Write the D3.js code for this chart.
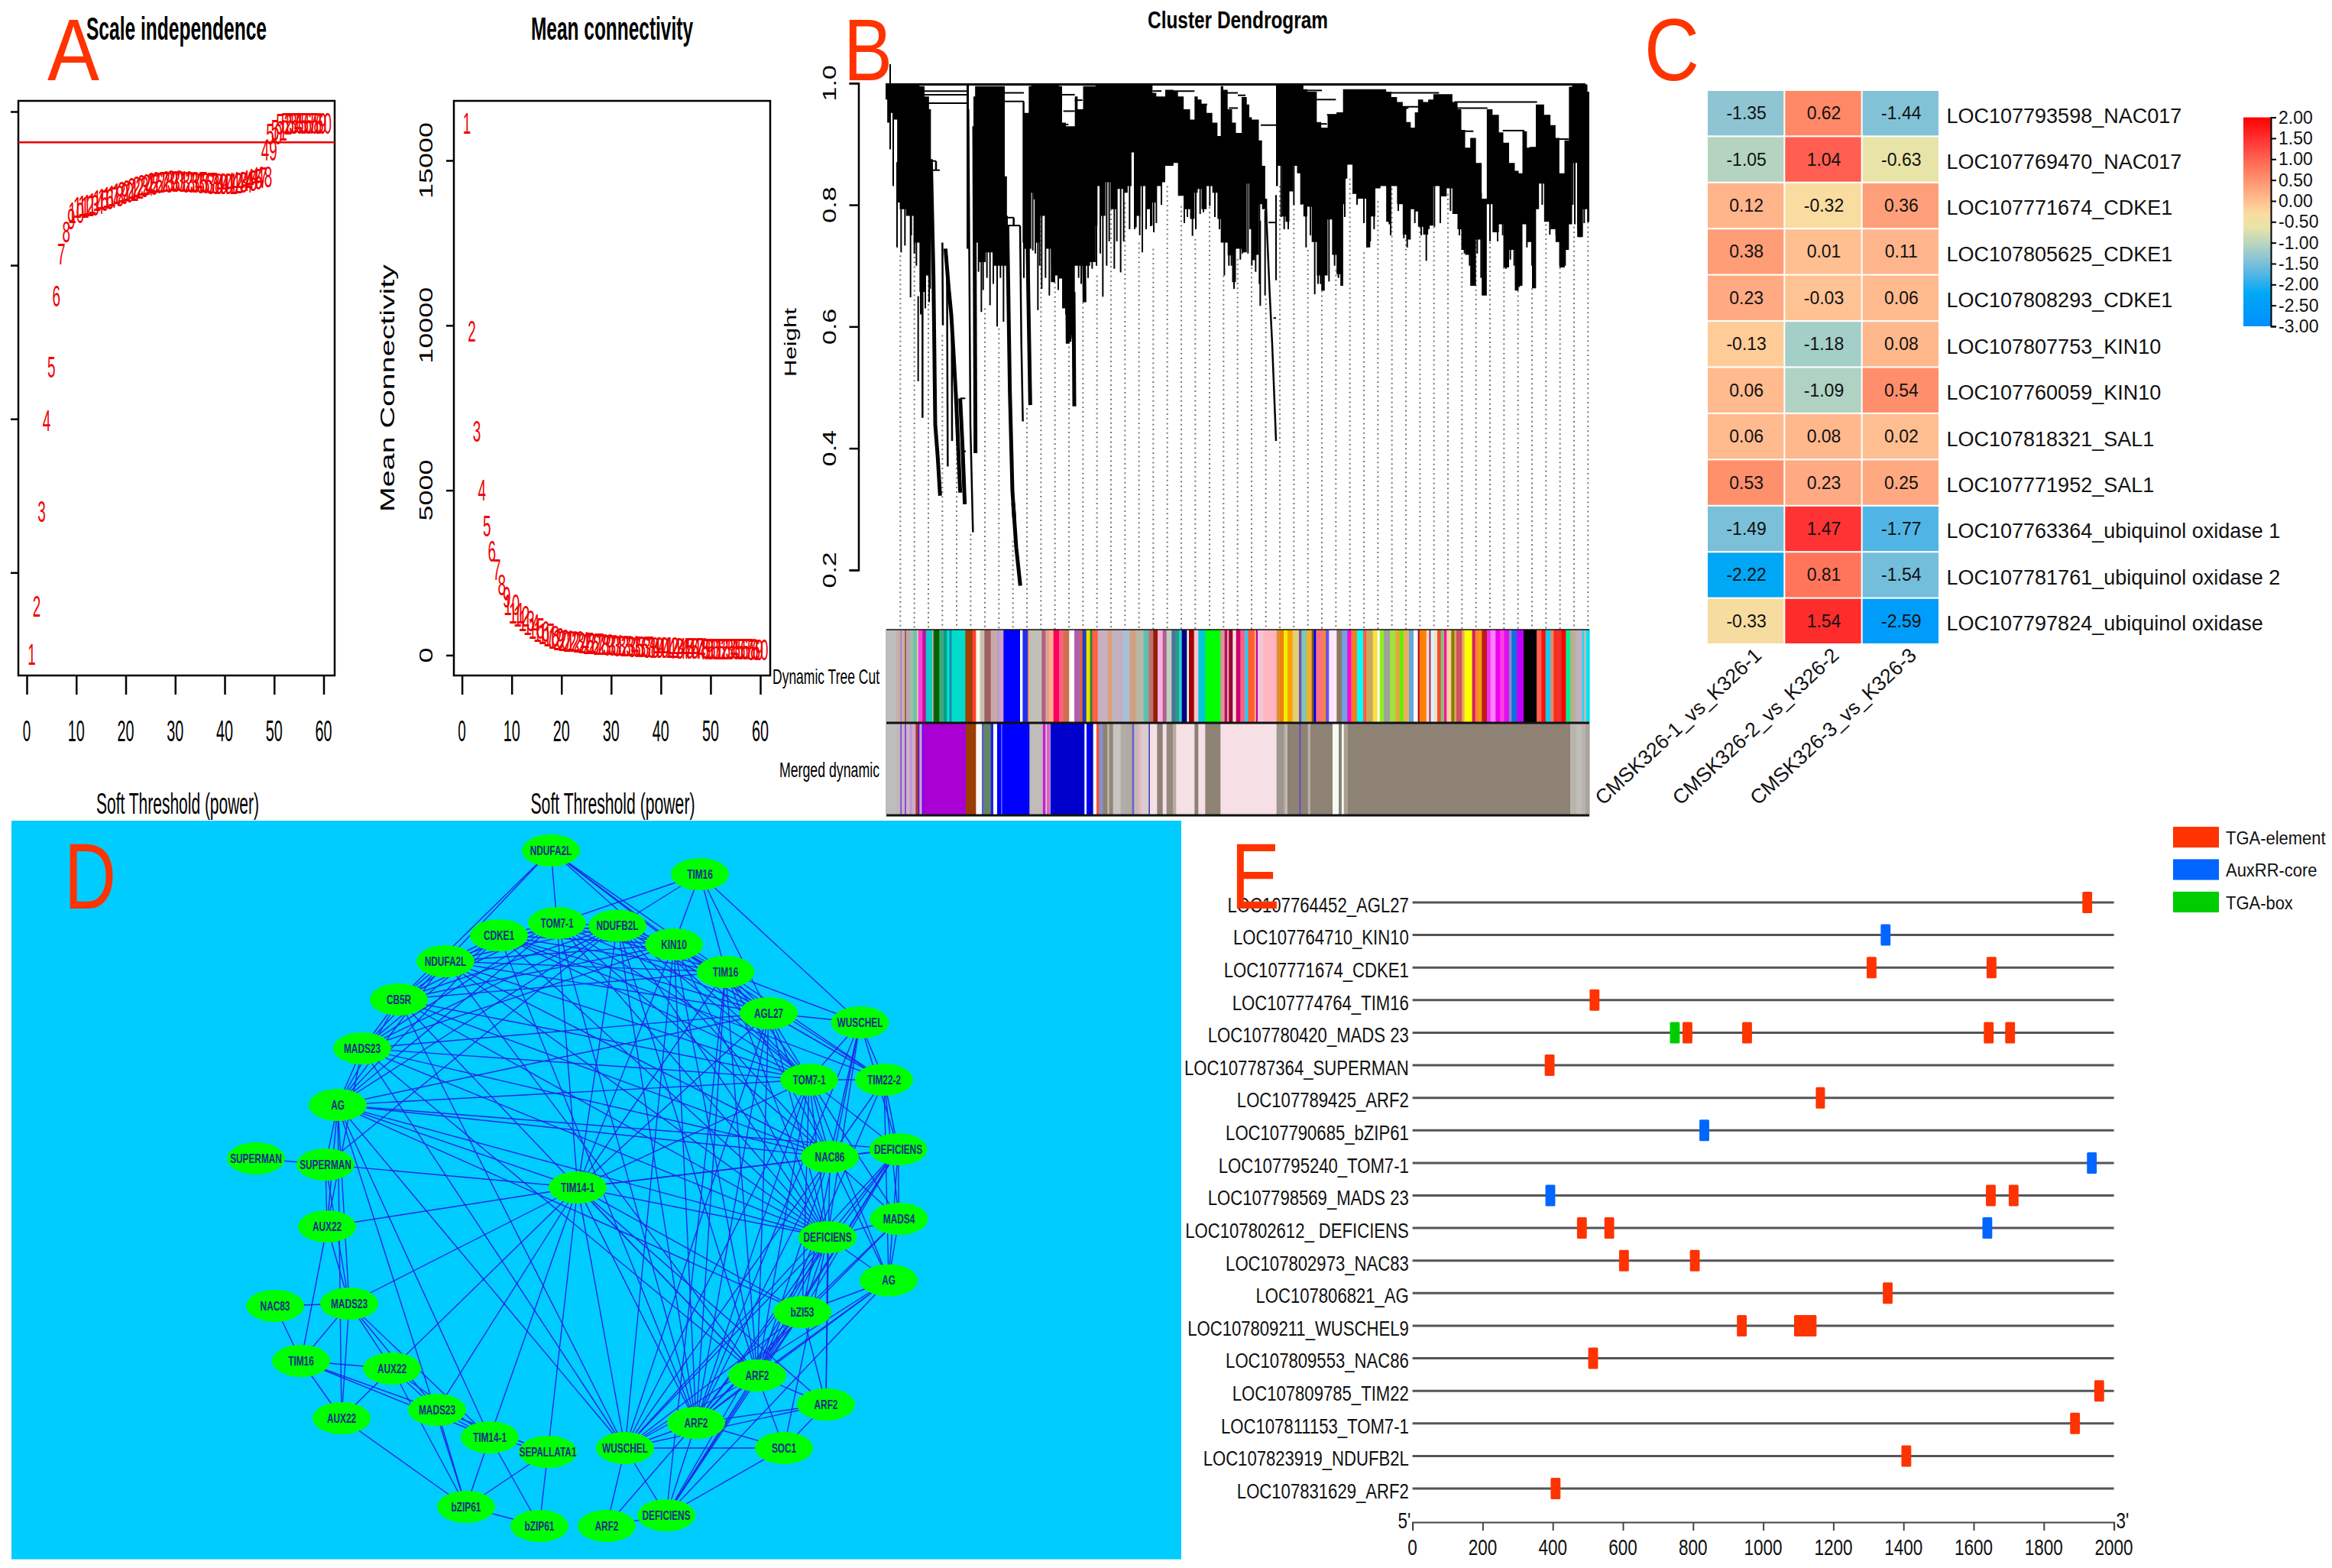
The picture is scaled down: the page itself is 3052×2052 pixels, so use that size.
<!DOCTYPE html>
<html><head><meta charset="utf-8">
<script src="https://cdn.jsdelivr.net/npm/d3@7"></script>
<style>html,body{margin:0;background:#fff}svg{display:block}text{font-family:"Liberation Sans",Arial,sans-serif}</style>
</head><body><div id="c"></div>
<script>
// ---------- Panel A ----------
const powers = d3.range(1,61);
const scaleFit = [-.768,-.61,-.303,-.006,.168,.40,.536,.608,.651,.67,.687,.692,.695,.699,.709,.716,.719,.726,.733,.738,.743,.75,.755,.76,.763,.767,.769,.77,.772,.774,.772,.772,.77,.77,.769,.767,.767,.765,.765,.765,.765,.767,.769,.77,.774,.779,.784,.788,.875,.926,.938,.958,.961,.962,.962,.962,.961,.962,.962,.961];
const meanK = [16116,9813,6782,4994,3909,3143,2585,2122,1755,1516,1276,1165,1037,910,800,718,638,575,510,463,440,420,400,380,365,350,335,320,310,300,290,280,270,262,255,248,240,235,230,225,220,215,210,205,200,197,194,191,188,185,182,180,178,176,174,172,170,168,166,165];
const powerTicks = [0,10,20,30,40,50,60];
const fitTicks = [1,.5,0,-.5];
const kTicks = [0,5000,10000,15000];
// ---------- Panel B ----------
const heightTicks = [.2,.4,.6,.8,1];
const massU = [27,40,50,70,75,90,125,150,170,190,205,207,345,354,355,372,385,400,440,465,490,500,507,508,565,580,598,600,615,620,645,667,685,700,715,725,745,768,772,790,815,845,858,860,880,900,920,950,970,985,1000,1015,1040,1060,1070,1080,1100,1120,1130,1150,1165,1185,1210,1235,1245,1260,1275,1300,1320,1340,1346,1360,1380,1395,1410,1440,1450,1460,1470,1485,1500,1510,1525,1526,1560,1575,1590,1605,1620,1635,1650,1660,1675,1690,1710,1730,1745,1755,1770,1790,1805,1820,1826,1830,1850,1870,1880,1910,1920,1940,1960,1980,2005,2020,2050,2065,2078,2100,2110,2125,2150,2165,2190,2220,2240,2265,2280,2295,2310,2335,2355,2380,2395,2425,2445,2460,2490,2505,2520,2535,2555,2575,2585,2600,2625,2650,2665,2680,2705,2715,2730,2755,2775,2790];
const massTop = [.997,.997,.997,.997,.997,.997,.997,.997,.995,.978,.957,null,.997,.997,null,.978,.995,.995,.995,.995,.995,.847,.782,null,.970,.951,.995,.997,.997,.997,.997,.997,.997,.997,.995,.935,.929,.929,.978,.957,.995,.995,.997,.997,.997,.997,.997,.997,.997,.997,.997,.997,.997,.997,.997,.984,.978,.978,.989,.989,.986,.978,.957,.940,.978,.973,.965,.951,.935,.913,.995,.989,.957,.935,.918,.977,.965,.944,.940,.940,.906,.864,.810,null,.996,.996,.996,.996,.996,.996,.996,.996,.990,.986,.986,.936,.927,.927,.948,.948,.952,.952,.990,.990,.990,.990,.990,.990,.990,.990,.990,.990,.986,.977,.969,.961,.936,.927,.952,.973,.969,.973,.982,.982,.982,.969,.957,.923,.894,.910,.869,.810,.957,.948,.919,.902,.869,.856,.852,.921,.894,.894,.965,.965,.948,.931,.910,.852,.906,.994,.998,.998,.998,.986];
const massBot = [.973,.935,.951,.940,.804,.793,.782,.738,.657,.684,.662,null,.728,.728,null,.684,.738,.706,.722,.700,.700,.700,.700,null,.738,.728,.728,.820,.809,.738,.782,.728,.673,.684,.679,.630,.575,.586,.700,.700,.700,.706,.766,.831,.782,.837,.793,.826,.820,.831,.886,.782,.831,.793,.766,.804,.831,.837,.864,.864,.869,.815,.793,.777,.820,.826,.793,.831,.820,.777,.738,.738,.717,.673,.728,.722,.835,.760,.709,.718,.801,.793,.772,null,.831,.864,.781,.772,.822,.864,.852,.801,.781,.797,.739,.684,.659,.684,.776,.718,.686,.667,.801,.843,.866,.818,.810,.810,.730,.781,.827,.831,.772,.831,.801,.751,.743,.793,.789,.764,.751,.766,.831,.814,.827,.785,.760,.726,.718,.667,.743,.651,.801,.755,.768,.697,.726,.659,.667,.768,.739,.663,.793,.835,.772,.760,.739,.697,.726,.768,.869,.747,.793,.772];
const tailsThick = [
 [[205,.875],[215,.684],[222,.439],[232,.384],[241,.322]],
 [[262,.728],[275,.662],[285,.619],[295,.548],[303,.488],[320,.327]],
 [[320,.482],[330,.395],[338,.308]],
 [[505,.766],[515,.493],[525,.330],[532,.285]],
 [[375,.929],[380,.392]],
 [[580,.847],[588,.640],[595,.471]],
 [[740,.684],[742,.572]],
 [[765,.657],[768,.469]],
 [[805,.793],[808,.640]],
 [[528,.31],[540,.237],[556,.174]]
];
const tailsMid = [
 [[352,.957],[360,.439],[370,.262]],
 [[555,.766],[560,.575],[566,.444]],
 [[172,.738],[172,.450]],
 [[250,.738],[252,.602]],
 [[268,.714],[271,.370]],
 [[287,.613],[288,.412]],
 [[1520,.801],[1535,.655],[1545,.571],[1560,.412]],
 [[225,.872],[225,.857]],
 [[530,.779],[530,.766]]
];
const spikeU = [45,57,72,88,103,125,155,403,437,465,490,605,625,640,670,690,590,880,895,925,950,1035,1010,1080,1232,1395,1357,1300,1275,1498,1517,1560,1678,1712,1748,1768,1820,1917,2005,2150,2182,2463,2578,2690,2705,2755,2733,2785,2635,
 128,140,148,165,183,198,392,410,425,450,478,570,615,632,655,680,705,712,735,755,785,795,822,838,855,870,905,935,962,985,1005,1025,1050,1068,1090,1110,1200,1212,1245,1262,1320,1338,1375,1385,1420,1428,
 1450,1465,1480,1495,1580,1592,1608,1630,1660,1695,1725,1735,1790,1805,1830,1878,1905,1930,1945,2010,2040,2062,2075,2105,2130,2160,2205,2245,2280,2300,2320,2350,2365,2400,2430,2450,2480,2495,2515,2545,2565,2605,2640,2660,2675,2695,2725,2745,2770];
const spikeBot = [.891,.831,.730,.722,.733,.648,.510,.624,.635,.600,.608,.725,.627,.662,.651,.673,.684,.649,.700,.695,.689,.722,.763,.755,.749,.662,.684,.798,.788,.634,.651,.676,.730,.653,.659,.674,.667,.730,.768,.708,.764,.695,.663,.697,.726,.747,.768,.772,.751,
 .75,.72,.70,.62,.63,.64,.69,.66,.68,.67,.68,.68,.72,.70,.68,.70,.66,.68,.62,.58,.68,.67,.68,.695,.70,.72,.74,.74,.74,.76,.76,.75,.76,.765,.77,.80,.77,.78,.76,.785,.78,.76,.70,.70,.71,.72,
 .72,.70,.69,.67,.78,.76,.76,.80,.80,.75,.67,.67,.70,.68,.78,.80,.77,.74,.76,.75,.79,.745,.73,.77,.75,.76,.77,.79,.75,.72,.70,.72,.68,.74,.74,.75,.71,.70,.665,.73,.70,.80,.77,.75,.70,.70,.80,.76,.77];
const branchStart = [130,135,190,208,210,470,490,505,505,680,720,725,725,770,1075,1130,1250,1345,1375,320,330,1410,1500,1530,1550,1660,1710,1730,1730,1760,1950,2010,2020,2050,2120,2125,2260,2270,2295,2450,2555,2665];
const branchEnd = [345,345,345,225,240,570,570,530,555,700,770,770,745,800,1110,1240,1290,1410,1410,340,342,1440,1560,1560,1560,1740,1795,1760,1755,1805,2200,2120,2080,2075,2190,2155,2585,2390,2335,2535,2585,2710];
const branchH = [.987,.981,.967,.872,.857,.984,.970,.779,.766,.989,.981,.954,.932,.972,.987,.987,.965,.984,.959,.482,.395,.980,.931,.771,.614,.988,.973,.933,.921,.948,.984,.961,.959,.925,.967,.950,.969,.959,.921,.922,.894,.908];
const guideU = [85,140,195,250,306,361,417,472,527,582,637,692,747,802,857,912,967,1022,1078,1133,1188,1243,1299,1354,1409,1464,1520,1575,1630,1685,1740,1795,1850,1905,1960,2015,2070,2125,2180,2235,2290,2345,2400,2455,2510,2565,2620,2675,2730,2785];
const guideH = [.717,.777,.777,.586,.477,.259,.630,.597,.248,.466,.820,.673,.575,.640,.684,.793,.804,.738,.728,.831,.798,.744,.804,.684,.711,.705,.646,.831,.801,.726,.659,.693,.843,.722,.806,.827,.743,.764,.764,.818,.760,.739,.801,.697,.659,.663,.776,.697,.764,.772];
const cutEnd = [68,85,90,102,108,125,135,150,155,172,185,210,215,238,255,268,278,286,340,368,382,398,415,440,465,475,490,555,565,585,590,640,655,670,686,708,725,748,768,790,800,815,830,838,860,900,915,960,985,1010,1040,1060,1078,1095,1115,1130,1150,1165,1180,1190,1210,1218,1238,1255,1282,1342,1358,1368,1375,1390,1403,1415,1420,1438,1450,1475,1482,1488,1510,1562,1575,1590,1605,1625,1650,1660,1680,1700,1708,1717,1745,1755,1768,1798,1818,1840,1855,1878,1902,1915,1940,1958,1967,1983,2007,2030,2045,2060,2082,2100,2117,2123,2150,2162,2167,2180,2193,2207,2220,2230,2248,2260,2268,2290,2300,2330,2342,2355,2368,2388,2402,2422,2440,2455,2475,2485,2505,2532,2583,2602,2618,2638,2650,2668,2680,2698,2715,2735,2762,2770,2778,2790];
const cutColor = ["#bdbdbd","#c8b0a8","#a080c8","#c0b0b0","#b06040","#b8a8b0","#a0c0a0","#70c0b0","#d0e090","#ff40e0","#c01090","#10c8c8","#d0b0b0","#006400","#40a880","#00a080","#00e0e0","#2080a0","#00dccc","#a04000","#ff4030","#f8f8e8","#c8c0b0","#a06060","#c8a8a8","#b0a0d0","#d8a0c0","#0000ff","#ffffff","#2030f0","#f08050","#c0c0b8","#b06080","#e0a090","#ffb090","#ff0060","#ff6080","#d07050","#ffffff","#b060b0","#e06040","#2040c0","#e8e000","#208040","#ff6040","#c8b0c0","#e0a070","#c0b0c0","#a8c0d8","#d0a080","#b8b8a8","#60c0b0","#c07070","#902000","#ffb0e0","#b06090","#c0d0c0","#5070a0","#20a080","#30d0e0","#000080","#f0f0f0","#a00000","#f8c0d0","#00c8d8","#00ff00","#e090a0","#b01060","#e8a0a0","#900030","#ffdddd","#d00060","#c00090","#ff6080","#20d0ff","#ff6030","#ffa080","#c000a0","#f0c8d8","#ffb6c1","#e09030","#f08010","#f0f000","#ffa000","#e0d070","#7050c0","#80c8b0","#f0b030","#806000","#0000ff","#ff7080","#f09020","#7050f0","#ffe8ff","#907860","#70a0e0","#ff00e0","#f08020","#00ffff","#ff6040","#c8a860","#f8e040","#f8fff0","#90ee20","#a0a0a0","#a0e040","#f0a040","#60f000","#e8b060","#60a8e0","#fff8f8","#a00030","#ff8000","#f0d8d0","#b00040","#d0f8ff","#f8e0c0","#f05030","#80c080","#ff10a0","#f8d0a0","#808000","#e0a060","#d05060","#e0b060","#ffff00","#d02060","#ff8040","#f0a000","#c01820","#f030f0","#ff80ff","#f000f0","#ff40e0","#e010f0","#8090c0","#1070e0","#c000ff","#000000","#ff6050","#ff1000","#10c8f0","#f08060","#f03020","#f03030","#ff0000","#00f090","#b8b090","#c0b0c0","#20d8f0","#c8b8b0","#00e0f0"];
const mergedEnd = [68,85,90,102,108,122,130,145,155,160,170,175,342,382,405,412,440,450,465,480,485,592,640,645,655,660,672,675,808,816,828,842,855,865,880,898,905,920,950,975,995,1003,1020,1030,1060,1065,1093,1115,1130,1155,1168,1240,1255,1282,1342,1562,1590,1595,1605,1652,1657,1685,1695,1782,1806,1818,1826,1842,2715,2740,2760,2775,2790];
const mergedColor = ["#bdbdbd","#c0b8b8","#8040e0","#c0b8c0","#a040e0","#c8b8c0","#c090e0","#d0a8d0","#a04020","#6000f0","#d0a0d0","#6000f0","#a900d4","#9a3c00","#f8f8f0","#6050e0","#608860","#2020f0","#ffffff","#0000ff","#6060ff","#0000ff","#c0bcb8","#d0a0d0","#c020d0","#d0d0d0","#e060c0","#a0a0e0","#0000cc","#ffffff","#0000ff","#0000cc","#ffffff","#ff5030","#8090d8","#908070","#c0bab0","#908878","#c8c4c0","#b0aca8","#b0aaa0","#7060d0","#c0bcb8","#f0b0c0","#d8cccc","#5040c0","#f5e0e6","#8e8275","#f5e0e6","#968a80","#b8aca0","#f5e0e6","#8e8275","#f5e0e6","#8e8275","#f6e0e6","#a09690","#b0a8a0","#c0b8b0","#8e8275","#6040d0","#8e8275","#b8b0a8","#8e8275","#f4fbf2","#8e8275","#f8fff8","#a8a090","#8e8275","#b8b4ae","#c0bcb8","#b8b4ae","#a8a49e"];
// ---------- Panel C ----------
const geneRows = ["LOC107793598_NAC017","LOC107769470_NAC017","LOC107771674_CDKE1","LOC107805625_CDKE1","LOC107808293_CDKE1","LOC107807753_KIN10","LOC107760059_KIN10","LOC107818321_SAL1","LOC107771952_SAL1","LOC107763364_ubiquinol oxidase 1","LOC107781761_ubiquinol oxidase 2","LOC107797824_ubiquinol oxidase"];
const compareCols = ["CMSK326-1_vs_K326-1","CMSK326-2_vs_K326-2","CMSK326-3_vs_K326-3"];
const logFC1 = [-1.35,-1.05,.12,.38,.23,-.13,.06,.06,.53,-1.49,-2.22,-.33];
const logFC2 = [.62,1.04,-.32,.01,-.03,-1.18,-1.09,.08,.23,1.47,.81,1.54];
const logFC3 = [-1.44,-.63,.36,.11,.06,.08,.54,.02,.25,-1.77,-1.54,-2.59];
const colorStops = [-3,-2.2,-1.77,-1.35,-1.05,-.63,-.32,-.13,.12,.62,1.04,1.47,2];
const colorValues = ["#0090ff","#00a8f5","#50b5e5","#8fc5d3","#b4d4c0","#e8e4a8","#f8dca0","#ffcc98","#ffb48a","#ff8866","#ff5e50","#ff3333","#ff0000"];
const legendTicks = [2,1.5,1,.5,0,-.5,-1,-1.5,-2,-2.5,-3];
// ---------- Panel D ----------
const nodeNames = ["NDUFA2L","TOM7-1","CDKE1","NDUFA2L","CB5R","MADS23","AG","SUPERMAN","SUPERMAN","AUX22","NAC83","MADS23","TIM16","AUX22","AUX22","MADS23","TIM14-1","SEPALLATA1","bZIP61","bZIP61","TIM14-1","NDUFB2L","TIM16","KIN10","TIM16","AGL27","WUSCHEL","TOM7-1","TIM22-2","NAC86","DEFICIENS","MADS4","DEFICIENS","AG","bZI53","ARF2","ARF2","ARF2","SOC1","WUSCHEL","DEFICIENS","ARF2"];
const nodeX = [721,729,653,583,522,474,442,335,426,428,360,457,394,513,447,572,641,717,610,706,756,808,916,882,949.5,1006,1125.5,1059,1157,1086,1175.5,1176.5,1083,1163,1050,991,1081,911,1026,818,872,794];
const nodeY = [1113,1208,1224,1258,1308,1372,1446,1516,1524,1605,1709,1706,1781,1791,1856,1845,1881,1900,1972,1997,1554,1211.5,1144,1236,1272,1326,1338,1413,1413,1514,1504,1595,1619,1675.5,1717,1800,1838,1862,1895,1895,1983,1997];
const adjacency = [
 [0,[4,1,23,24,25,27,3]],
 [1,[2,3,4,5,6,20,21,23,24,25,27,29,32,37]],
 [2,[3,4,5,6,21,23,24,25,27,28,32,37]],
 [3,[4,5,6,21,23,24,25,27,29,32,35]],
 [4,[5,6,21,23,24,27,29,32,35,39]],
 [5,[6,21,23,25,27,29,32,35,39,9]],
 [6,[8,9,11,14,21,25,27,29,30,32,34,39,20,18,16]],
 [8,[7,9,11,20,21]],
 [9,[11,12,20]],
 [10,[11,12]],
 [11,[12,13,15,16,20,14]],
 [12,[13,14,15,16]],
 [13,[14,15,16,18,20]],
 [14,[18]],
 [15,[16,17,18,20]],
 [16,[17,18,19,20]],
 [17,[18,19,20]],
 [18,[19]],
 [20,[21,23,24,25,27,29,30,32,34,35,36,37,39]],
 [21,[22,23,24,25,27,28,29,32,35,37]],
 [22,[1,23,24,25,26]],
 [23,[24,25,27,28,32,35,37,39]],
 [24,[25,26,27,28,29,32,35,37,40]],
 [25,[26,27,28,29,32,35,37,39]],
 [26,[27,28,29,30,32,34,37]],
 [27,[28,29,30,31,32,33,34,35,37,39]],
 [28,[29,30,31,33,35]],
 [29,[30,31,33,35,36,37,39]],
 [30,[31,32,33,34,35,37,39,40]],
 [31,[32,33,34,37]],
 [32,[33,34,35,36,37,38,39,40]],
 [33,[34,35,37,39,40]],
 [34,[35,36,37,39,40]],
 [35,[36,37,38,39,40]],
 [36,[37,38,39]],
 [37,[38,39,40,41]],
 [38,[39,40]],
 [39,[40,41]],
 [40,[41]]
];
// ---------- Panel E ----------
const promoterGenes = ["LOC107764452_AGL27","LOC107764710_KIN10","LOC107771674_CDKE1","LOC107774764_TIM16","LOC107780420_MADS 23","LOC107787364_SUPERMAN","LOC107789425_ARF2","LOC107790685_bZIP61","LOC107795240_TOM7-1","LOC107798569_MADS 23","LOC107802612_ DEFICIENS","LOC107802973_NAC83","LOC107806821_AG","LOC107809211_WUSCHEL9","LOC107809553_NAC86","LOC107809785_TIM22","LOC107811153_TOM7-1","LOC107823919_NDUFB2L","LOC107831629_ARF2"];
const elementNames = ["TGA-element","AuxRR-core","TGA-box"];
const siteGene = [0,1,2,2,3,4,4,4,4,4,5,6,7,8,9,9,9,10,10,10,11,11,12,13,13,14,15,16,17,18];
const siteStart = [1910,1335,1295,1637,505,734,770,940,1629,1690,377,1150,818,1923,379,1635,1700,469,547,1625,589,791,1341,925,1088,501,1944,1875,1394,394];
const siteEnd = [1938,1363,1323,1665,533,762,798,968,1657,1718,405,1176,846,1951,407,1663,1728,497,575,1653,617,819,1369,953,1152,529,1972,1903,1422,422];
const siteType = [0,1,0,0,0,2,0,0,0,0,0,0,1,1,1,0,0,0,0,1,0,0,0,0,0,0,0,0,0,0];
const positionTicks = d3.range(0,2001,200);
const elementColors = ["#ff3300","#0066ff","#00cc00"];

// ---------- drawing ----------
const svg = d3.select("#c").append("svg").attr("width",3052).attr("height",2052).attr("viewBox","0 0 3052 2052");
function label(g,o){
  const el = g.append("text")
   .attr("transform",`translate(${o.x},${o.y}) rotate(${o.rot||0}) scale(${o.sx||1},${o.sy||1})`)
   .attr("text-anchor",o.anchor||"middle").attr("dy",o.dy==null?".35em":o.dy)
   .attr("font-size",o.size).attr("fill",o.fill||"#000").attr("font-weight",o.weight||"normal").text(o.text);
  if(o.w) el.attr("textLength",o.w).attr("lengthAdjust","spacingAndGlyphs");
  return el;
}
function cleanAxis(g){ g.select(".domain").remove(); g.selectAll("text").remove(); g.selectAll("line").attr("stroke","#000").attr("stroke-width",2.5); }
const RED = "#ff3300";
function letter(text,x,y,w,size){ label(svg,{x,y,text,size,w,fill:RED,anchor:"start",dy:0}); }

function wgcnaPanel(frame,xRange,yScale,vals,title,titleX,titleW,xTitleX,xTitleW){
  const g = svg.append("g");
  const x = d3.scaleLinear([0,60],xRange);
  g.append("rect").attr("x",frame[0]).attr("y",132).attr("width",frame[1]-frame[0]).attr("height",752).attr("fill","none").attr("stroke","#000").attr("stroke-width",2.5);
  g.append("g").attr("transform","translate(0,884)").call(d3.axisBottom(x).tickValues(powerTicks).tickSize(25).tickFormat("")).call(cleanAxis);
  powerTicks.forEach(t=>label(g,{x:x(t),y:957,text:t,size:38,w:String(t).length*10.5+(t?1:0)}));
  label(g,{x:titleX,y:37,text:title,size:43,w:titleW,weight:"bold"});
  label(g,{x:xTitleX,y:1052,text:"Soft Threshold (power)",size:38,w:xTitleW});
  powers.forEach((p,i)=>label(g,{x:x(p),y:yScale(vals[i]),text:p,size:38,fill:"#f00000",w:String(p).length*10.5}));
  return g;
}
const yFit = d3.scaleLinear([1,-.5],[146,749.3]);
const gA = wgcnaPanel([24,438],[35,423.5],yFit,scaleFit,"Scale independence",231,236,232.5,213);
gA.append("g").attr("transform","translate(24,0)").call(d3.axisLeft(yFit).tickValues(fitTicks).tickSize(10).tickFormat("")).call(cleanAxis);
gA.append("line").attr("x1",24).attr("x2",438).attr("y1",yFit(.9)).attr("y2",yFit(.9)).attr("stroke","#f00000").attr("stroke-width",2.5);
const yK = d3.scaleLinear([0,15000],[857.4,210]);
const gK = wgcnaPanel([594,1008],[604.6,995],yK,meanK,"Mean connectivity",801,212,802,215);
gK.append("g").attr("transform","translate(594,0)").call(d3.axisLeft(yK).tickValues(kTicks).tickSize(10).tickFormat("")).call(cleanAxis);
kTicks.forEach(t=>label(gK,{x:557,y:yK(t),text:t,size:36,rot:-90,sy:.68}));
label(gK,{x:507,y:508,text:"Mean Connectivity",size:38,rot:-90,sy:.68,w:324});

// Panel B
const gB = svg.append("g");
const uX = d3.scaleLinear([27,2790],[1159,2080]);
const hY = d3.scaleLinear([1,.2],[108.8,745.9]);
const guideEnd = .093;
guideU.forEach((u,i)=>gB.append("line").attr("x1",uX(u)).attr("x2",uX(u)).attr("y1",hY(guideH[i])).attr("y2",hY(guideEnd)).attr("stroke","#777").attr("stroke-width",2).attr("stroke-dasharray","2 4.2"));
const massData = massU.map((u,i)=>({u,t:massTop[i],b:massBot[i]}));
gB.append("path").attr("d",d3.area().defined(d=>d.t!=null).curve(d3.curveStep).x(d=>uX(d.u)).y0(d=>hY(d.t)).y1(d=>hY(d.b))(massData)).attr("fill","#000");
const ln = d3.line().x(d=>uX(d[0])).y(d=>hY(d[1]));
tailsThick.forEach(t=>gB.append("path").attr("d",ln(t)).attr("fill","none").attr("stroke","#000").attr("stroke-width",5));
tailsMid.forEach(t=>gB.append("path").attr("d",ln(t)).attr("fill","none").attr("stroke","#000").attr("stroke-width",2.5));
spikeU.forEach((u,i)=>gB.append("line").attr("x1",uX(u)).attr("x2",uX(u)).attr("y1",hY(spikeBot[i]+.14)).attr("y2",hY(spikeBot[i])).attr("stroke","#000").attr("stroke-width",2));
branchStart.forEach((s,i)=>gB.append("line").attr("x1",uX(s)).attr("x2",uX(branchEnd[i])).attr("y1",hY(branchH[i])).attr("y2",hY(branchH[i])).attr("stroke","#000").attr("stroke-width",2));
gB.append("line").attr("x1",uX(27)).attr("x2",uX(2775)).attr("y1",hY(.998)).attr("y2",hY(.998)).attr("stroke","#000").attr("stroke-width",3);
gB.append("g").attr("transform","translate(1123.5,0)").call(d3.axisLeft(hY).tickValues(heightTicks).tickSize(12).tickFormat(""))
  .call(g=>g.selectAll("line,path").attr("stroke","#000").attr("stroke-width",2.5));
heightTicks.forEach(t=>label(gB,{x:1085.6,y:hY(t),text:t.toFixed(1),size:34,rot:-90,sy:.68}));
label(gB,{x:1034,y:448,text:"Height",size:32,rot:-90,sy:.7,w:90});
label(gB,{x:1620,y:26,text:"Cluster Dendrogram",size:32,w:236,weight:"bold"});
label(gB,{x:1151,y:885,text:"Dynamic Tree Cut",size:28,w:140,anchor:"end"});
label(gB,{x:1151,y:1007,text:"Merged dynamic",size:28,w:131,anchor:"end"});
function strip(ends,colors,y0,y1){
  ends.forEach((e,i)=>{const s=i?ends[i-1]:27;
    gB.append("rect").attr("x",uX(s)).attr("y",y0).attr("width",Math.max(0,uX(e)-uX(s))+.6).attr("height",y1-y0).attr("fill",colors[i]);});
}
strip(cutEnd,cutColor,824,945);
strip(mergedEnd,mergedColor,946,1066);
[[824,1.5],[946,3],[1067,3]].forEach(([y,w])=>gB.append("line").attr("x1",1160).attr("x2",2080).attr("y1",y).attr("y2",y).attr("stroke","#111").attr("stroke-width",w));

// Panel C
const gC = svg.append("g");
const hx = d3.scaleBand(compareCols,[2235,2537]).paddingInner(.02);
const hy = d3.scaleBand(geneRows,[119,842]).paddingInner(.035);
const heat = d3.scaleLinear(colorStops,colorValues);
[logFC1,logFC2,logFC3].forEach((col,c)=>col.forEach((v,r)=>{
  gC.append("rect").attr("x",hx(compareCols[c])).attr("y",hy(geneRows[r])).attr("width",hx.bandwidth()).attr("height",hy.bandwidth()).attr("fill",heat(v));
  label(gC,{x:hx(compareCols[c])+hx.bandwidth()/2+1,y:hy(geneRows[r])+hy.bandwidth()/2,text:v.toFixed(2),size:23,fill:"#111"});
}));
geneRows.forEach(g=>label(gC,{x:2547.5,y:hy(g)+hy.bandwidth()/2+3,text:g,size:27,anchor:"start",fill:"#111"}));
compareCols.forEach(c=>label(gC,{x:hx(c)+hx.bandwidth()/2+16,y:853,text:c,size:26.5,anchor:"end",rot:-43,fill:"#111"}));
const gradId="hg"; const lg=svg.append("defs").append("linearGradient").attr("id",gradId).attr("x1",0).attr("x2",0).attr("y1",1).attr("y2",0);
colorStops.forEach((s,i)=>lg.append("stop").attr("offset",(s+3)/5).attr("stop-color",colorValues[i]));
const yLeg = d3.scaleLinear([2,-3],[153.6,427]);
gC.append("rect").attr("x",2936).attr("y",153.6).attr("width",36).attr("height",273.4).attr("fill",`url(#${gradId})`);
gC.append("g").attr("transform","translate(2972,0)").call(d3.axisRight(yLeg).tickValues(legendTicks).tickSize(7).tickFormat(""))
 .call(g=>g.selectAll("line,path").attr("stroke","#000").attr("stroke-width",2));
legendTicks.forEach(t=>label(gC,{x:2982,y:yLeg(t),text:t.toFixed(2),size:23,anchor:"start",fill:"#111"}));

// Panel D
const gD = svg.append("g");
gD.append("rect").attr("x",15).attr("y",1074).attr("width",1531).attr("height",966.6).attr("fill","#00ccff");
const nx = d3.scaleIdentity(), ny = d3.scaleIdentity();
adjacency.forEach(([a,list])=>list.forEach(b=>gD.append("line").attr("x1",nx(nodeX[a])).attr("y1",ny(nodeY[a])).attr("x2",nx(nodeX[b])).attr("y2",ny(nodeY[b])).attr("stroke","#1f28e6").attr("stroke-width",1.4)));
nodeNames.forEach((n,i)=>{
  gD.append("ellipse").attr("cx",nx(nodeX[i])).attr("cy",ny(nodeY[i])).attr("rx",38).attr("ry",21).attr("fill","#00ff00");
  label(gD,{x:nx(nodeX[i]),y:ny(nodeY[i]),text:n,size:16,sx:.74,fill:"#1a2a90",weight:"bold"});
});

// Panel E
const gE = svg.append("g");
const px = d3.scaleLinear([0,2000],[1848.6,2766.6]);
const py = d3.scalePoint(promoterGenes,[1181,1948]);
promoterGenes.forEach(g=>{
  gE.append("line").attr("x1",px(0)).attr("x2",px(2000)).attr("y1",py(g)).attr("y2",py(g)).attr("stroke","#555").attr("stroke-width",3);
  label(gE,{x:1843.8,y:py(g)+3,text:g,size:28,sx:.79,anchor:"end",fill:"#111"});
});
siteGene.forEach((g,i)=>gE.append("rect").attr("x",px(siteStart[i])).attr("y",py(promoterGenes[g])-14).attr("width",px(siteEnd[i])-px(siteStart[i])).attr("height",28).attr("rx",1.5).attr("fill",elementColors[siteType[i]]));
gE.append("g").attr("transform","translate(0,1992)").call(d3.axisBottom(px).tickValues(positionTicks).tickSize(11).tickFormat(""))
 .call(g=>g.selectAll("line,path").attr("stroke","#444").attr("stroke-width",2));
positionTicks.forEach(t=>label(gE,{x:px(t),y:2024,text:t,size:30,sx:.75,fill:"#111"}));
label(gE,{x:1838,y:1989,text:"5'",size:30,sx:.75,fill:"#111"});
label(gE,{x:2778,y:1989,text:"3'",size:30,sx:.75,fill:"#111"});
const legY = d3.scaleBand(elementNames,[1082,1194]).paddingInner(.36);
elementNames.forEach((n,i)=>{
  gE.append("rect").attr("x",2844).attr("y",legY(n)).attr("width",60).attr("height",legY.bandwidth()).attr("fill",elementColors[i]);
  label(gE,{x:2913,y:legY(n)+legY.bandwidth()/2+1,text:n,size:24,sx:.915,anchor:"start",fill:"#111"});
});

// Panel letters
letter("A",62,104.5,68,115); letter("B",1104,104.5,64,115); letter("C",2152,104.5,72,115); letter("D",84,1189,68,122); letter("E",1611,1189,64,122);
</script></body></html>
